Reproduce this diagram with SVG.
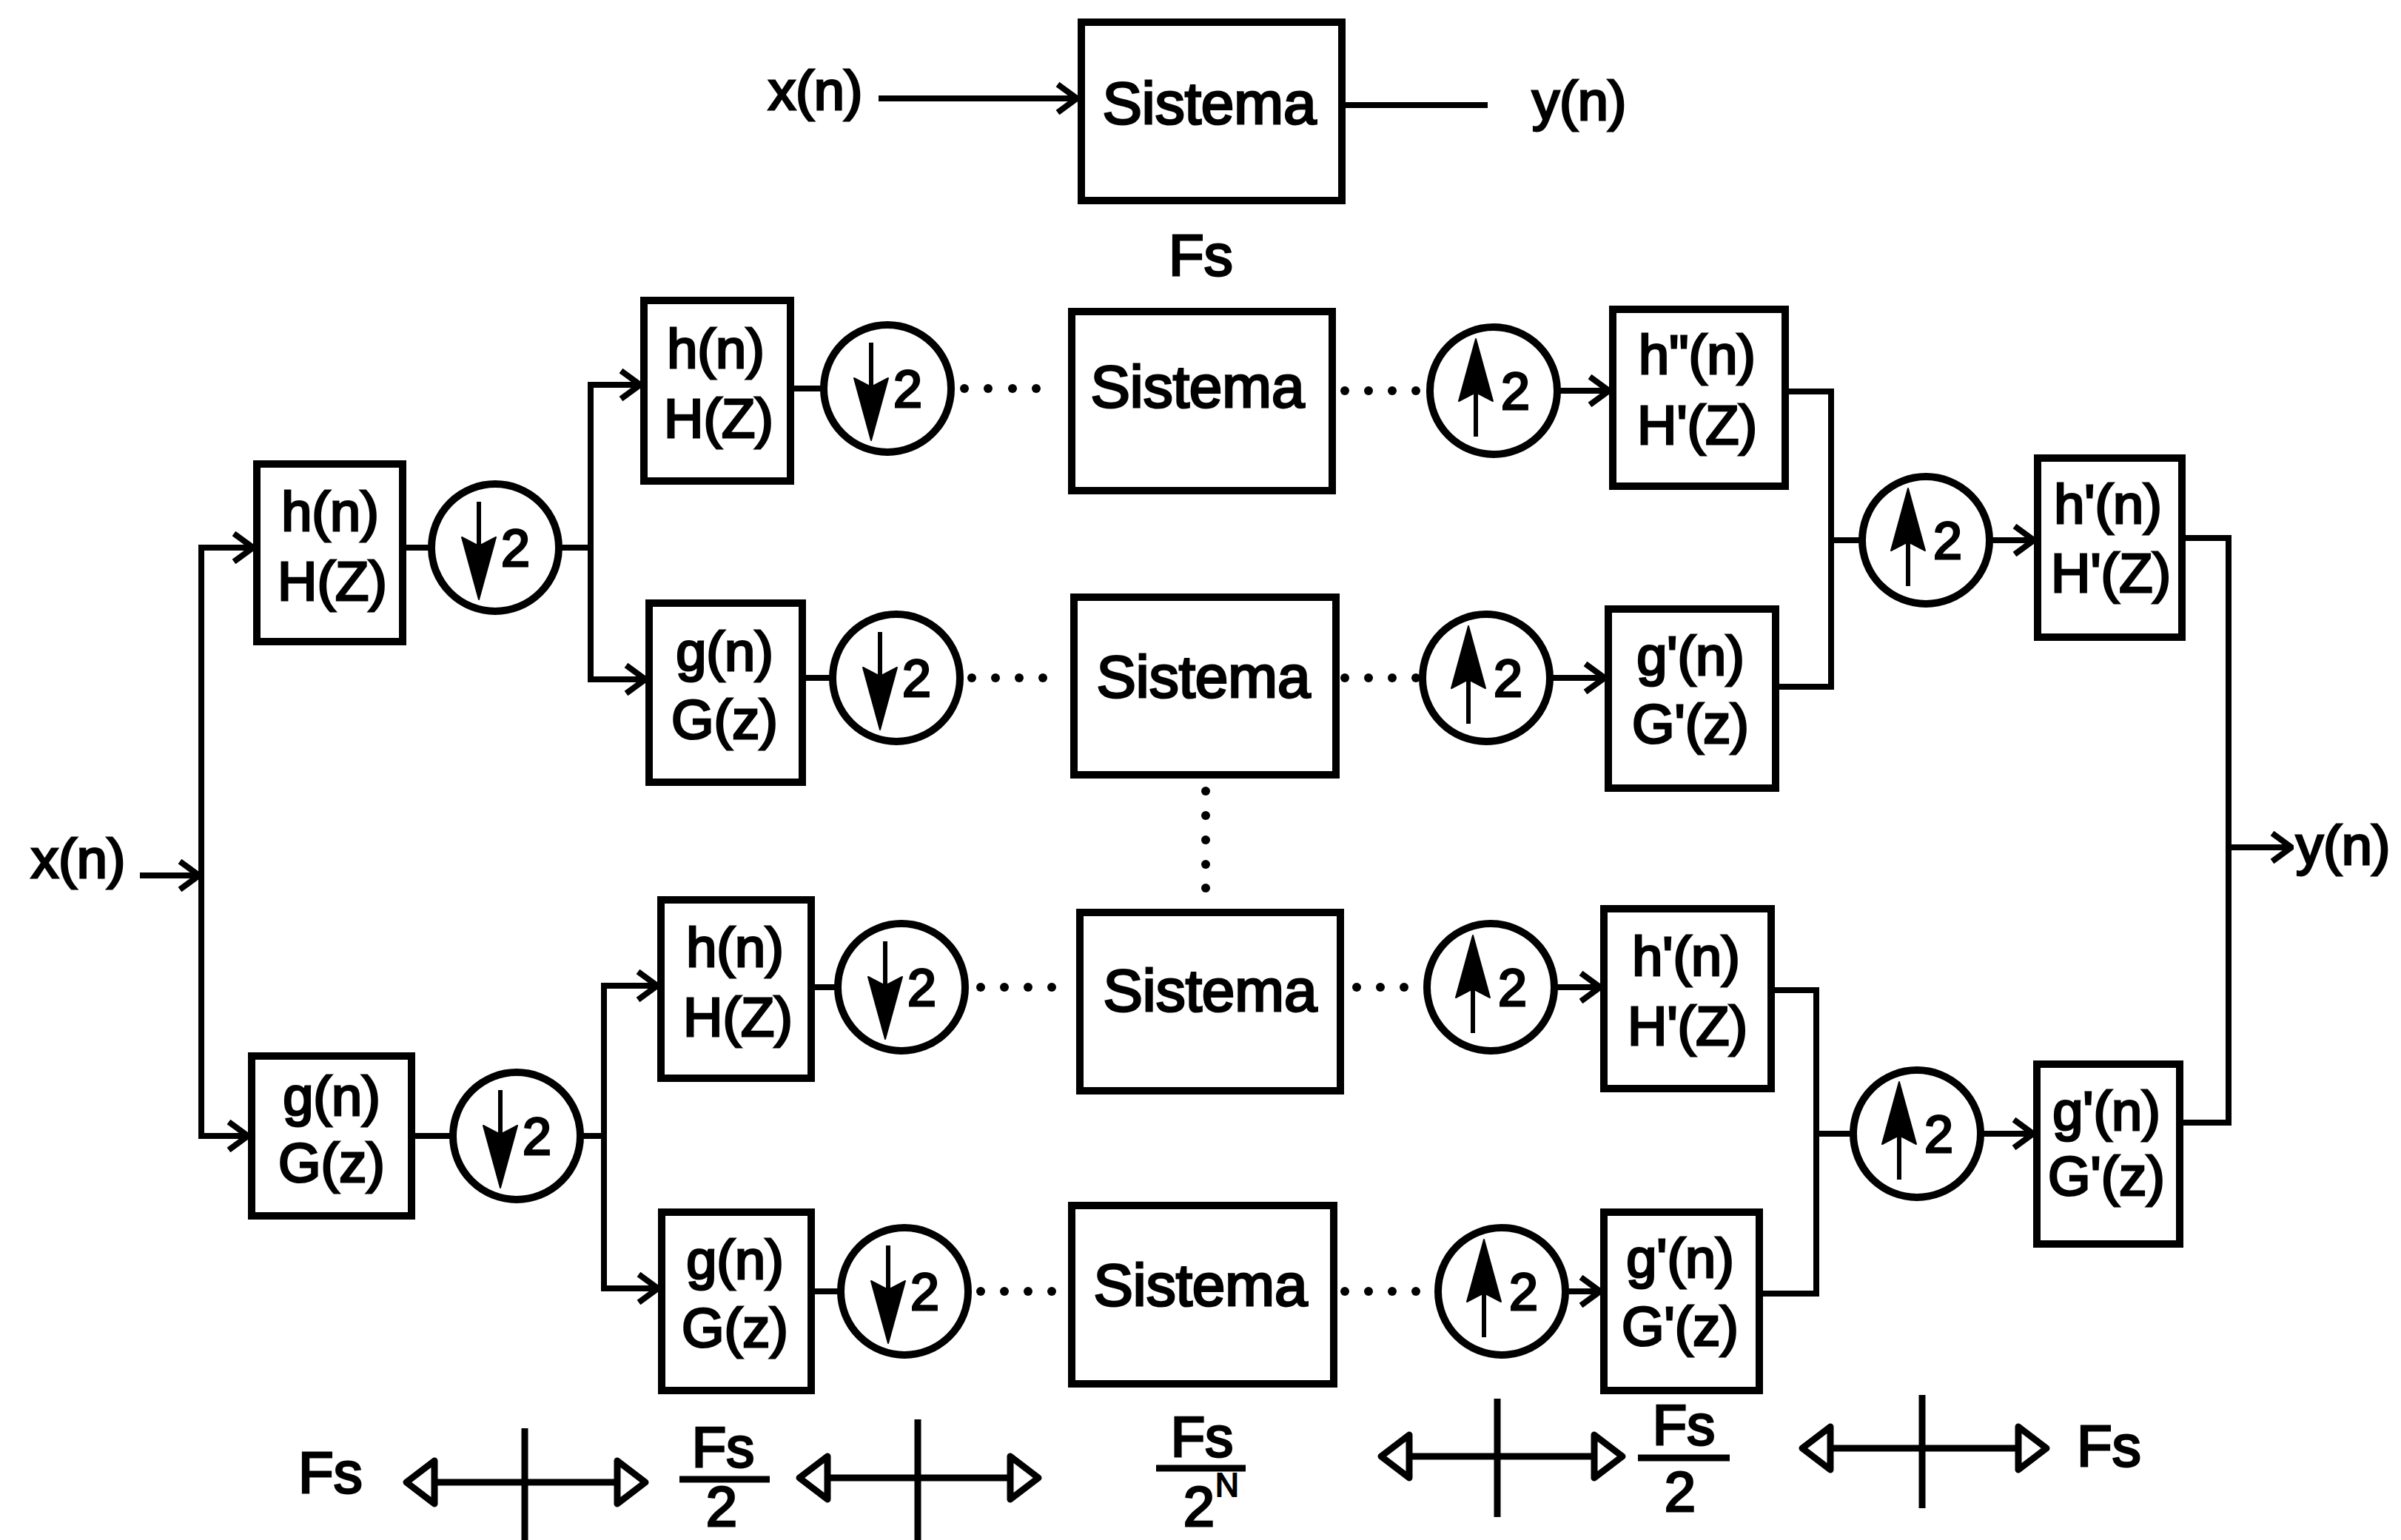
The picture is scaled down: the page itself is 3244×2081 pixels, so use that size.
<svg xmlns="http://www.w3.org/2000/svg" width="3244" height="2081" viewBox="0 0 3244 2081">
<style>
  .box{fill:#fff;stroke:#000;stroke-width:10;stroke-linejoin:miter}
  .ring{fill:#fff;stroke:#000;stroke-width:10}
  .shaft{stroke:#000;stroke-width:6;fill:none}
  .head{fill:#000;stroke:#000;stroke-width:2;stroke-linejoin:round}
  .conn{fill:none;stroke:#000;stroke-width:8;stroke-linejoin:miter}
  .leg{fill:none;stroke:#000;stroke-width:9}
  .dot{fill:#000}
  text{font-family:"Liberation Sans",Arial,Helvetica,sans-serif;fill:#000;stroke:#000;stroke-width:3}
  .lbl{font-size:74px;text-anchor:middle}
  .sys{font-size:80px;text-anchor:middle}
  .two{font-size:70px}
  .io{font-size:74px}
  .fs{font-size:78px}
  .frac{font-size:76px;text-anchor:middle}
  .sup{font-size:44px;stroke-width:2}
</style>
<defs>
  <marker id="arr" markerUnits="userSpaceOnUse" viewBox="0 0 32 44" refX="29" refY="22" markerWidth="32" markerHeight="44" orient="auto">
    <path d="M3,3 L29,22 L3,41" fill="none" stroke="#000" stroke-width="8" stroke-linejoin="miter"/>
  </marker>
  <marker id="tri" markerUnits="userSpaceOnUse" viewBox="0 0 52 72" refX="46" refY="36" markerWidth="52" markerHeight="72" orient="auto-start-reverse">
    <path d="M7,7 L45,36 L7,65 Z" fill="#fff" stroke="#000" stroke-width="9" stroke-linejoin="round"/>
  </marker>
</defs>
<rect width="3244" height="2081" fill="#fff"/>

<!-- connectors -->
<g id="connectors">
  <path class="conn" d="M1187,133 H1455" marker-end="url(#arr)"/>
  <path class="conn" d="M1818,142 H2010"/>
  <path class="conn" d="M189,1183 H269" marker-end="url(#arr)"/>
  <path class="conn" d="M272,740 V1535"/>
  <path class="conn" d="M268,740 H342" marker-end="url(#arr)"/>
  <path class="conn" d="M268,1535 H335" marker-end="url(#arr)"/>
  <path class="conn" d="M544,740 H585"/>
  <path class="conn" d="M753,740 H798"/>
  <path class="conn" d="M798,520 V918"/>
  <path class="conn" d="M794,520 H865" marker-end="url(#arr)"/>
  <path class="conn" d="M794,918 H872" marker-end="url(#arr)"/>
  <path class="conn" d="M556,1535 H614"/>
  <path class="conn" d="M782,1535 H816"/>
  <path class="conn" d="M816,1332 V1741"/>
  <path class="conn" d="M812,1332 H888" marker-end="url(#arr)"/>
  <path class="conn" d="M812,1741 H889" marker-end="url(#arr)"/>
  <path class="conn" d="M1068,525 H1115"/>
  <path class="conn" d="M1084,916 H1127"/>
  <path class="conn" d="M1096,1334 H1134"/>
  <path class="conn" d="M1096,1745 H1138"/>
  <path class="conn" d="M2102,528 H2174" marker-end="url(#arr)"/>
  <path class="conn" d="M2092,916 H2168" marker-end="url(#arr)"/>
  <path class="conn" d="M2098,1334 H2162" marker-end="url(#arr)"/>
  <path class="conn" d="M2113,1745 H2162" marker-end="url(#arr)"/>
  <path class="conn" d="M2412,529 H2474 V928 H2399"/>
  <path class="conn" d="M2474,730 H2518"/>
  <path class="conn" d="M2686,730 H2748" marker-end="url(#arr)"/>
  <path class="conn" d="M2393,1338 H2454 V1748 H2377"/>
  <path class="conn" d="M2454,1532 H2506"/>
  <path class="conn" d="M2674,1532 H2747" marker-end="url(#arr)"/>
  <path class="conn" d="M2948,727 H3011 V1517 H2945"/>
  <path class="conn" d="M3011,1145 H3096" marker-end="url(#arr)"/>
  <!-- dotted links -->
  <g class="dot">
    <circle cx="1303" cy="525" r="6"/><circle cx="1335" cy="525" r="6"/><circle cx="1368" cy="525" r="6"/><circle cx="1400" cy="525" r="6"/>
    <circle cx="1817" cy="528" r="6"/><circle cx="1849" cy="528" r="6"/><circle cx="1881" cy="528" r="6"/><circle cx="1913" cy="528" r="6"/>
    <circle cx="1313" cy="916" r="6"/><circle cx="1345" cy="916" r="6"/><circle cx="1377" cy="916" r="6"/><circle cx="1409" cy="916" r="6"/>
    <circle cx="1817" cy="916" r="6"/><circle cx="1849" cy="916" r="6"/><circle cx="1881" cy="916" r="6"/><circle cx="1913" cy="916" r="6"/>
    <circle cx="1325" cy="1334" r="6"/><circle cx="1357" cy="1334" r="6"/><circle cx="1389" cy="1334" r="6"/><circle cx="1421" cy="1334" r="6"/>
    <circle cx="1833" cy="1334" r="6"/><circle cx="1865" cy="1334" r="6"/><circle cx="1897" cy="1334" r="6"/>
    <circle cx="1325" cy="1745" r="6"/><circle cx="1357" cy="1745" r="6"/><circle cx="1389" cy="1745" r="6"/><circle cx="1421" cy="1745" r="6"/>
    <circle cx="1817" cy="1745" r="6"/><circle cx="1849" cy="1745" r="6"/><circle cx="1881" cy="1745" r="6"/><circle cx="1913" cy="1745" r="6"/>
    <circle cx="1629" cy="1069" r="6"/><circle cx="1629" cy="1102" r="6"/><circle cx="1629" cy="1135" r="6"/><circle cx="1629" cy="1168" r="6"/><circle cx="1629" cy="1200" r="6"/>
  </g>
</g>

<!-- top system -->
<g id="top_x"><text class="io" x="1038" y="148">x(n)</text></g>
<g id="top_sys"><rect class="box" x="1461" y="30" width="352" height="241"/><text class="sys" x="1634" y="167">Sistema</text></g>
<g id="top_y"><text class="io" x="2070" y="162">y(n)</text></g>
<g id="top_fs"><text class="fs" x="1579" y="372">Fs</text></g>

<!-- input/output -->
<g id="in_x"><text class="io" x="42" y="1186">x(n)</text></g>
<g id="out_y"><text class="io" x="3102" y="1168">y(n)</text></g>

<!-- level 1 analysis -->
<g id="A"><rect class="box" x="347" y="627" width="197" height="240"/><text class="lbl" x="446" y="717">h(n)</text><text class="lbl" x="449" y="811">H(Z)</text></g>
<g id="B"><rect class="box" x="340" y="1427" width="216" height="216"/><text class="lbl" x="448" y="1507">g(n)</text><text class="lbl" x="448" y="1597">G(z)</text></g>
<g id="D1" transform="translate(669,740)"><circle class="ring" r="86"/><line class="shaft" x1="-22" y1="-62" x2="-22" y2="10"/><path class="head" d="M-45,-14 L-22,70 L1,-14 L-22,-2 Z"/><text class="two" x="8" y="25">2</text></g>
<g id="D2" transform="translate(698,1535)"><circle class="ring" r="86"/><line class="shaft" x1="-22" y1="-62" x2="-22" y2="10"/><path class="head" d="M-45,-14 L-22,70 L1,-14 L-22,-2 Z"/><text class="two" x="8" y="25">2</text></g>

<!-- level 2 analysis boxes -->
<g id="R1A"><rect class="box" x="870" y="406" width="198" height="244"/><text class="lbl" x="967" y="497">h(n)</text><text class="lbl" x="971" y="591">H(Z)</text></g>
<g id="R2A"><rect class="box" x="877" y="815" width="207" height="242"/><text class="lbl" x="979" y="906">g(n)</text><text class="lbl" x="979" y="998">G(z)</text></g>
<g id="R3A"><rect class="box" x="893" y="1216" width="203" height="241"/><text class="lbl" x="993" y="1306">h(n)</text><text class="lbl" x="997" y="1400">H(Z)</text></g>
<g id="R4A"><rect class="box" x="894" y="1638" width="202" height="241"/><text class="lbl" x="993" y="1728">g(n)</text><text class="lbl" x="993" y="1820">G(z)</text></g>

<!-- downsamplers -->
<g id="R1D" transform="translate(1199,525)"><circle class="ring" r="86"/><line class="shaft" x1="-22" y1="-62" x2="-22" y2="10"/><path class="head" d="M-45,-14 L-22,70 L1,-14 L-22,-2 Z"/><text class="two" x="8" y="25">2</text></g>
<g id="R2D" transform="translate(1211,916)"><circle class="ring" r="86"/><line class="shaft" x1="-22" y1="-62" x2="-22" y2="10"/><path class="head" d="M-45,-14 L-22,70 L1,-14 L-22,-2 Z"/><text class="two" x="8" y="25">2</text></g>
<g id="R3D" transform="translate(1218,1334)"><circle class="ring" r="86"/><line class="shaft" x1="-22" y1="-62" x2="-22" y2="10"/><path class="head" d="M-45,-14 L-22,70 L1,-14 L-22,-2 Z"/><text class="two" x="8" y="25">2</text></g>
<g id="R4D" transform="translate(1222,1745)"><circle class="ring" r="86"/><line class="shaft" x1="-22" y1="-62" x2="-22" y2="10"/><path class="head" d="M-45,-14 L-22,70 L1,-14 L-22,-2 Z"/><text class="two" x="8" y="25">2</text></g>

<!-- systems -->
<g id="S1"><rect class="box" x="1448" y="421" width="352" height="242"/><text class="sys" x="1618" y="550">Sistema</text></g>
<g id="S2"><rect class="box" x="1451" y="807" width="354" height="240"/><text class="sys" x="1626" y="942">Sistema</text></g>
<g id="S3"><rect class="box" x="1459" y="1233" width="352" height="241"/><text class="sys" x="1635" y="1366">Sistema</text></g>
<g id="S4"><rect class="box" x="1448" y="1629" width="354" height="241"/><text class="sys" x="1622" y="1764">Sistema</text></g>

<!-- upsamplers -->
<g id="R1U" transform="translate(2018,528)"><circle class="ring" r="86"/><line class="shaft" x1="-24" y1="62" x2="-24" y2="-10"/><path class="head" d="M-47,14 L-24,-70 L-1,14 L-24,2 Z"/><text class="two" x="10" y="25">2</text></g>
<g id="R2U" transform="translate(2008,916)"><circle class="ring" r="86"/><line class="shaft" x1="-24" y1="62" x2="-24" y2="-10"/><path class="head" d="M-47,14 L-24,-70 L-1,14 L-24,2 Z"/><text class="two" x="10" y="25">2</text></g>
<g id="R3U" transform="translate(2014,1334)"><circle class="ring" r="86"/><line class="shaft" x1="-24" y1="62" x2="-24" y2="-10"/><path class="head" d="M-47,14 L-24,-70 L-1,14 L-24,2 Z"/><text class="two" x="10" y="25">2</text></g>
<g id="R4U" transform="translate(2029,1745)"><circle class="ring" r="86"/><line class="shaft" x1="-24" y1="62" x2="-24" y2="-10"/><path class="head" d="M-47,14 L-24,-70 L-1,14 L-24,2 Z"/><text class="two" x="10" y="25">2</text></g>

<!-- level 2 synthesis boxes -->
<g id="R1B"><rect class="box" x="2179" y="418" width="233" height="239"/><text class="lbl" x="2293" y="505">h"(n)</text><text class="lbl" x="2293" y="600">H'(Z)</text></g>
<g id="R2B"><rect class="box" x="2173" y="823" width="226" height="242"/><text class="lbl" x="2284" y="912">g'(n)</text><text class="lbl" x="2284" y="1004">G'(z)</text></g>
<g id="R3B"><rect class="box" x="2167" y="1228" width="226" height="243"/><text class="lbl" x="2278" y="1318">h'(n)</text><text class="lbl" x="2280" y="1412">H'(Z)</text></g>
<g id="R4B"><rect class="box" x="2167" y="1638" width="210" height="241"/><text class="lbl" x="2270" y="1726">g'(n)</text><text class="lbl" x="2270" y="1818">G'(z)</text></g>

<!-- level 1 synthesis -->
<g id="U1" transform="translate(2602,730)"><circle class="ring" r="86"/><line class="shaft" x1="-24" y1="62" x2="-24" y2="-10"/><path class="head" d="M-47,14 L-24,-70 L-1,14 L-24,2 Z"/><text class="two" x="10" y="25">2</text></g>
<g id="U2" transform="translate(2590,1532)"><circle class="ring" r="86"/><line class="shaft" x1="-24" y1="62" x2="-24" y2="-10"/><path class="head" d="M-47,14 L-24,-70 L-1,14 L-24,2 Z"/><text class="two" x="10" y="25">2</text></g>
<g id="C"><rect class="box" x="2753" y="619" width="195" height="242"/><text class="lbl" x="2848" y="707">h'(n)</text><text class="lbl" x="2852" y="800">H'(Z)</text></g>
<g id="D"><rect class="box" x="2752" y="1438" width="193" height="243"/><text class="lbl" x="2846" y="1527">g'(n)</text><text class="lbl" x="2846" y="1615">G'(z)</text></g>

<!-- frequency legend -->
<g id="legend">
  <text class="fs" x="403" y="2017">Fs</text>
  <path class="leg" d="M548,2003 H873" marker-start="url(#tri)" marker-end="url(#tri)"/>
  <path class="leg" d="M709,1930 V2081"/>
  <text class="frac" x="977" y="1982">Fs</text>
  <path class="leg" d="M918,1999 H1040"/>
  <text class="frac" x="975" y="2062">2</text>
  <path class="leg" d="M1079,1997 H1404" marker-start="url(#tri)" marker-end="url(#tri)"/>
  <path class="leg" d="M1240,1918 V2081"/>
  <text class="frac" x="1624" y="1968">Fs</text>
  <path class="leg" d="M1562,1984 H1683"/>
  <text class="frac" x="1620" y="2062">2</text>
  <text class="sup" x="1642" y="2022">N</text>
  <path class="leg" d="M1865,1968 H2193" marker-start="url(#tri)" marker-end="url(#tri)"/>
  <path class="leg" d="M2023,1890 V2050"/>
  <text class="frac" x="2275" y="1952">Fs</text>
  <path class="leg" d="M2213,1970 H2337"/>
  <text class="frac" x="2270" y="2042">2</text>
  <path class="leg" d="M2434,1957 H2766" marker-start="url(#tri)" marker-end="url(#tri)"/>
  <path class="leg" d="M2597,1885 V2038"/>
  <text class="fs" x="2806" y="1981">Fs</text>
</g>
</svg>
